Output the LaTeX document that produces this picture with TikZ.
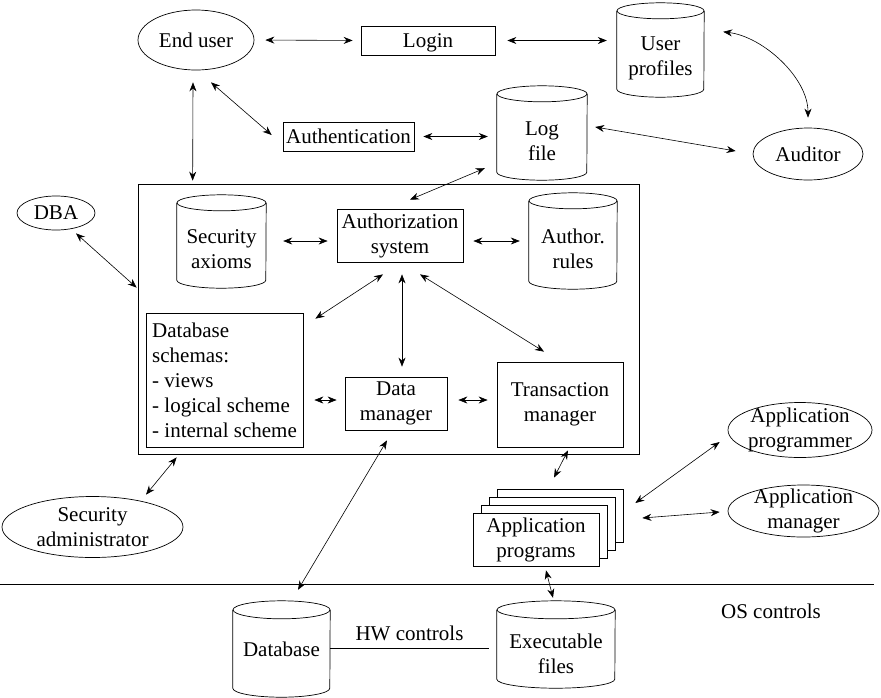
\documentclass[tikz,border=0pt]{standalone}
\usepackage{fontspec}
\setmainfont{Liberation Serif}
\usetikzlibrary{arrows.meta,shapes.geometric,calc}
\newcommand\cylout[3]{%
  \draw[line width=0.7pt] ([yshift=#3pt]#1.north) ellipse [x radius=#2pt, y radius=#3pt];
  \draw[line width=0.7pt] ([yshift=#3pt]#1.north west) -- ([yshift=#3pt]#1.south west)
     arc[start angle=180, end angle=360, x radius=#2pt, y radius=#3pt] -- ([yshift=#3pt]#1.north east);}
\begin{document}
\begin{tikzpicture}[x=1pt,y=-1pt,
  every node/.style={font=\fontsize{21}{25}\selectfont, inner sep=0pt, align=center},
  rbox/.style={draw, line width=0.7pt, fill=white},
  onebox/.style={rbox, text height=14pt, text depth=1pt},
  ell/.style={draw, ellipse, line width=0.7pt, inner xsep=-4pt, inner ysep=-6pt},
  cyl/.style={},
  arr/.style={{Stealth[length=9pt,width=7pt]}-{Stealth[length=9pt,width=7pt]}, line width=0.6pt}]
\useasboundingbox (0,0) rectangle (881,697);

% top row
\node[ell, minimum width=116pt, minimum height=60pt] (eu) at (196,40) {End user};
\node[onebox, minimum width=134pt, minimum height=29pt] (login) at (428,40.5) {Login};
\node[cyl, minimum width=87pt, minimum height=78pt] (up) at (660.5,58) {User\\profiles};
\cylout{up}{43.5}{8}
\node[onebox, minimum width=131pt, minimum height=29pt] (auth) at (348.5,136.5) {Authentication};
\node[cyl, minimum width=90pt, minimum height=78pt] (log) at (542,141) {Log\\file};
\cylout{log}{45}{8}
\node[ell, minimum width=110pt, minimum height=52pt] (aud) at (808,154) {Auditor};

% system box
\node[rbox, fill=none, minimum width=501pt, minimum height=270pt] (sys) at (388.5,319) {};
\node[ell, minimum width=78pt, minimum height=34pt] (dba) at (56,213) {DBA};
\node[cyl, minimum width=89pt, minimum height=77pt] (sa) at (221.5,249.5) {Security\\axioms};
\cylout{sa}{44.5}{8}
\node[rbox, minimum width=126pt, minimum height=53pt] (as) at (400,235.5) {Authorization\\system};
\node[cyl, minimum width=88pt, minimum height=80pt] (ar) at (573,249) {Author.\\rules};
\cylout{ar}{44}{8}
\node[rbox, minimum width=157pt, minimum height=134pt, align=left] (ds) at (224.5,380)
  {Database\\schemas:\\- views\\- logical scheme\\- internal scheme};
\node[rbox, minimum width=102pt, minimum height=53pt] (dm) at (396,403.5) {Data\\manager};
\node[rbox, minimum width=126pt, minimum height=85pt] (tm) at (560,404.5) {Transaction\\manager};

% lower part
\node[ell, minimum width=181pt, minimum height=61pt] (sadm) at (92.5,527) {Security\\administrator};
\node[rbox, minimum width=126pt, minimum height=53pt] (ap3) at (560,515.5) {};
\node[rbox, minimum width=126pt, minimum height=53pt] (ap2) at (552,523.5) {};
\node[rbox, minimum width=126pt, minimum height=53pt] (ap1) at (544,531.5) {};
\node[rbox, minimum width=126pt, minimum height=53pt] (ap) at (536,539.5) {Application\\programs};
\node[ell, minimum width=144pt, minimum height=55pt] (apg) at (800,430) {Application\\programmer};
\node[ell, minimum width=151pt, minimum height=52pt] (am) at (803.5,511) {Application\\manager};

\draw[line width=0.7pt] (0,584) -- (874,584);
\node (os) at (771,611) {OS controls};
\node[cyl, minimum width=97pt, minimum height=78pt, text depth=18pt] (db) at (281.5,658) {Database};
\cylout{db}{48.5}{9}
\node[cyl, minimum width=118pt, minimum height=69pt] (ef) at (556,653.5) {Executable\\files};
\cylout{ef}{59}{9}
\draw[line width=0.7pt] ([shift={(0,-10)}]db.east) -- node[above=7pt] (hw) {HW controls} ([shift={(-8,-5.5)}]ef.west);

% connectors
\draw[arr, shorten <=11pt, shorten >=8pt] (eu.east) -- (login.west);
\draw[arr, shorten <=12pt, shorten >=10pt] (login.east) -- (login.east -| up.west);
\draw[arr] ([shift={(19,13)}]up.north east) .. controls +(40,5) and +(0,-40) .. ([shift={(0,-10)}]aud.north);
\draw[arr] ([shift={(8,-14)}]log.east) -- ([shift={(-17,-3)}]aud.west);
\draw[arr, shorten <=9pt, shorten >=9pt] (auth.east) -- (auth.east -| log.west);
\draw[arr] ([shift={(15,12)}]eu.south) -- ([shift={(-11,-1.5)}]auth.west);
\draw[arr] ([shift={(-3,12)}]eu.south) -- ([shift={(55,-3)}]sys.north west);
\draw[arr] ([shift={(-12,-12)}]log.south west) -- ([shift={(10,-9)}]as.north);
\draw[arr] ([shift={(20,3)}]dba.south) -- ([shift={(-1,104)}]sys.north west);
\draw[arr] ([shift={(17,-8.5)}]sa.east) -- ([shift={(-9,5.5)}]as.west);
\draw[arr] ([shift={(10,5.5)}]as.east) -- ([shift={(-9,-8)}]ar.west);
\draw[arr] ([shift={(-17,12)}]as.south) -- ([shift={(12,6)}]ds.north east);
\draw[arr] ([shift={(2,12)}]as.south) -- ([shift={(6,-10)}]dm.north);
\draw[arr] ([shift={(20,12)}]as.south) -- ([shift={(-16,-10)}]tm.north);
\draw[arr] ([shift={(11,20)}]ds.east) -- ([shift={(-8,-3.5)}]dm.west);
\draw[arr] ([shift={(11,-3.5)}]dm.east) -- ([shift={(-9,-4.5)}]tm.west);
\draw[arr] ([shift={(53.5,-1.5)}]sadm.north) -- ([shift={(39,3)}]sys.south west);
\draw[arr] ([shift={(-9,10)}]dm.south) -- ([shift={(16.5,-29)}]db.north);
\draw[arr] ([shift={(8,3)}]tm.south) -- ([shift={(18,-35)}]ap.north);
\draw[arr] ([shift={(36,-36.5)}]ap.east) -- ([shift={(-8,12)}]apg.west);
\draw[arr] ([shift={(43,-21.5)}]ap.east) -- ([shift={(-8,1)}]am.west);
\draw[arr] ([shift={(10,4)}]ap.south) -- ([shift={(-3,-21)}]ef.north);
\end{tikzpicture}
\end{document}
